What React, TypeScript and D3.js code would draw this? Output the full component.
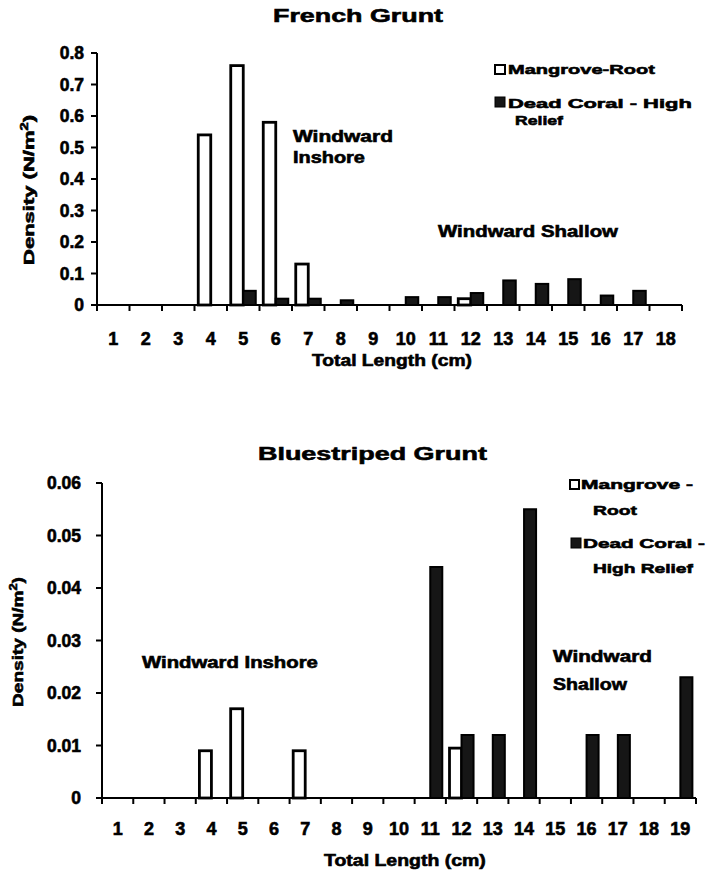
import React, { useLayoutEffect, useRef, useState } from "react";
import * as d3 from "d3";

const topCategories = ["1","2","3","4","5","6","7","8","9","10","11","12","13","14","15","16","17","18"];
const frenchMangrove = [0,0,0,0.54,0.76,0.58,0.13,0,0,0,0,0.02,0,0,0,0,0,0];
const frenchCoral = [0,0,0,0,0.045,0.02,0.02,0.015,0,0.025,0.025,0.038,0.078,0.067,0.082,0.03,0.045,0];
const topYTicks = [0,0.1,0.2,0.3,0.4,0.5,0.6,0.7,0.8];

const bottomCategories = ["1","2","3","4","5","6","7","8","9","10","11","12","13","14","15","16","17","18","19"];
const blueMangrove = [0,0,0,0.009,0.017,0,0.009,0,0,0,0,0.0095,0,0,0,0,0,0,0];
const blueCoral = [0,0,0,0,0,0,0,0,0,0,0.044,0.012,0.012,0.055,0,0.012,0.012,0,0.023];
const bottomYTicks = [0,0.01,0.02,0.03,0.04,0.05,0.06];

const seriesKeys = ["Mangrove-Root", "Dead Coral - High Relief"];

const FONT = "'Liberation Sans', Arial, Helvetica, sans-serif";
const CORAL_FILL = "#161616";
const HEAVY = 0.6;

type T = { x: number; y: number; text: string; size: number; len?: number; anchor?: string; rotate?: number; children?: any };
function Txt({ x, y, text, size, len, anchor = "start", rotate = 0, children }: T) {
  const ref = useRef<SVGTextElement>(null);
  const [sx, setSx] = useState(1);
  useLayoutEffect(() => {
    if (len && ref.current) {
      const w = ref.current.getComputedTextLength();
      if (w > 0) setSx(len / w);
    }
  }, [len, text, size]);
  return (
    <g transform={`translate(${x},${y}) rotate(${rotate}) scale(${sx},1)`}>
      <text
        ref={ref}
        x={0}
        y={0}
        fontSize={size}
        fontWeight="bold"
        fontFamily={FONT}
        textAnchor={anchor as any}
        fill="#000"
        stroke="#000"
        strokeWidth={HEAVY}
      >
        {children ?? text}
      </text>
    </g>
  );
}

type ChartProps = {
  cats: string[];
  mangrove: number[];
  coral: number[];
  yTicks: number[];
  yMax: number;
  x0: number;
  x1: number;
  y0: number;
  y1: number;
  yLabelX: number;
  xLabelY: number;
};

function BarChart({ cats, mangrove, coral, yTicks, yMax, x0, x1, y0, y1, yLabelX, xLabelY }: ChartProps) {
  const x = d3.scaleBand<string>().domain(cats).range([x0, x1]).paddingInner(0).paddingOuter(0);
  const inner = d3.scaleBand<string>().domain(seriesKeys).range([0, x.bandwidth()]).paddingInner(0).paddingOuter(0.3);
  const y = d3.scaleLinear().domain([0, yMax]).range([y0, y1]);
  const boundaries = d3.range(cats.length + 1).map((i) => x0 + i * x.step());
  const fmt = (v: number) => (v === 0 ? "0" : String(+v.toFixed(2)));
  return (
    <g>
      {cats.map((c, i) => {
        const bx = x(c)!;
        const out: any[] = [];
        if (mangrove[i] > 0) {
          out.push(
            <rect key={"m" + i} x={bx + inner(seriesKeys[0])!} y={y(mangrove[i])} width={inner.bandwidth()}
              height={y0 - y(mangrove[i])} fill="#fff" stroke="#000" strokeWidth={2.8} />
          );
        }
        if (coral[i] > 0) {
          out.push(
            <rect key={"c" + i} x={bx + inner(seriesKeys[1])!} y={y(coral[i])} width={inner.bandwidth()}
              height={y0 - y(coral[i])} fill={CORAL_FILL} stroke="#000" strokeWidth={2} />
          );
        }
        return out;
      })}
      <line x1={x0} x2={x0} y1={y1} y2={y0} stroke="#000" strokeWidth={2} />
      <line x1={x0} x2={x1} y1={y0} y2={y0} stroke="#000" strokeWidth={2} />
      {yTicks.map((t) => (
        <g key={"yt" + t}>
          <line x1={x0 - 6} x2={x0} y1={y(t)} y2={y(t)} stroke="#000" strokeWidth={2} />
          <Txt x={yLabelX} y={y(t) + 6} text={fmt(t)} size={17.5} anchor="end" />
        </g>
      ))}
      {boundaries.map((b, i) => (
        <line key={"xt" + i} x1={b} x2={b} y1={y0} y2={y0 + 6} stroke="#000" strokeWidth={2} />
      ))}
      {cats.map((c) => (
        <Txt key={"xl" + c} x={x(c)! + x.bandwidth() / 2} y={xLabelY} text={c} size={18} anchor="middle" />
      ))}
    </g>
  );
}

function YTitle({ cx, cy, len }: { cx: number; cy: number; len: number }) {
  return (
    <Txt x={cx} y={cy} text="Density (N/m2)" size={15} len={len} anchor="middle" rotate={-90}>
      Density (N/m<tspan fontSize={10} dy={-6}>2</tspan><tspan dy={6}>)</tspan>
    </Txt>
  );
}

export default function App() {
  return (
    <svg width={708} height={877} style={{ position: "absolute", left: 0, top: 0, background: "#fff" }}>
      <rect x={0} y={0} width={708} height={877} fill="#fff" />

      {/* ---------- French Grunt ---------- */}
      <Txt x={273} y={22} text="French Grunt" size={19} len={170} />
      <BarChart cats={topCategories} mangrove={frenchMangrove} coral={frenchCoral} yTicks={topYTicks} yMax={0.8}
        x0={97} x1={682} y0={305} y1={53} yLabelX={84} xLabelY={345} />
      <YTitle cx={34} cy={190} len={150} />
      <Txt x={312} y={366} text="Total Length (cm)" size={16} len={160} />
      <rect x={495} y={65} width={10} height={9} fill="#fff" stroke="#000" strokeWidth={2} />
      <Txt x={508} y={74} text="Mangrove-Root" size={13.5} len={147} />
      <rect x={495} y={97} width={10} height={10} fill={CORAL_FILL} stroke="#000" strokeWidth={1} />
      <Txt x={508} y={108} text="Dead Coral - High" size={13.5} len={184} />
      <Txt x={515} y={125} text="Relief" size={13.5} len={48} />
      <Txt x={293} y={142} text="Windward" size={16} len={100} />
      <Txt x={293} y={163} text="Inshore" size={16} len={72} />
      <Txt x={438} y={237} text="Windward Shallow" size={16} len={180} />

      {/* ---------- Bluestriped Grunt ---------- */}
      <Txt x={258} y={460} text="Bluestriped Grunt" size={19} len={229} />
      <BarChart cats={bottomCategories} mangrove={blueMangrove} coral={blueCoral} yTicks={bottomYTicks} yMax={0.06}
        x0={102} x1={696} y0={798} y1={483} yLabelX={81} xLabelY={835} />
      <YTitle cx={23} cy={642} len={130} />
      <Txt x={324} y={866} text="Total Length (cm)" size={16} len={162} />
      <rect x={570} y={480} width={9} height={9} fill="#fff" stroke="#000" strokeWidth={2} />
      <Txt x={581} y={489} text="Mangrove -" size={13.5} len={112} />
      <Txt x={593} y={515} text="Root" size={13.5} len={44} />
      <rect x={571} y={538} width={10} height={10} fill={CORAL_FILL} stroke="#000" strokeWidth={1} />
      <Txt x={583} y={548} text="Dead Coral -" size={13.5} len={122} />
      <Txt x={593} y={573} text="High Relief" size={13.5} len={100} />
      <Txt x={142} y={668} text="Windward Inshore" size={16} len={176} />
      <Txt x={553} y={662} text="Windward" size={16} len={99} />
      <Txt x={553} y={690} text="Shallow" size={16} len={74} />
    </svg>
  );
}
